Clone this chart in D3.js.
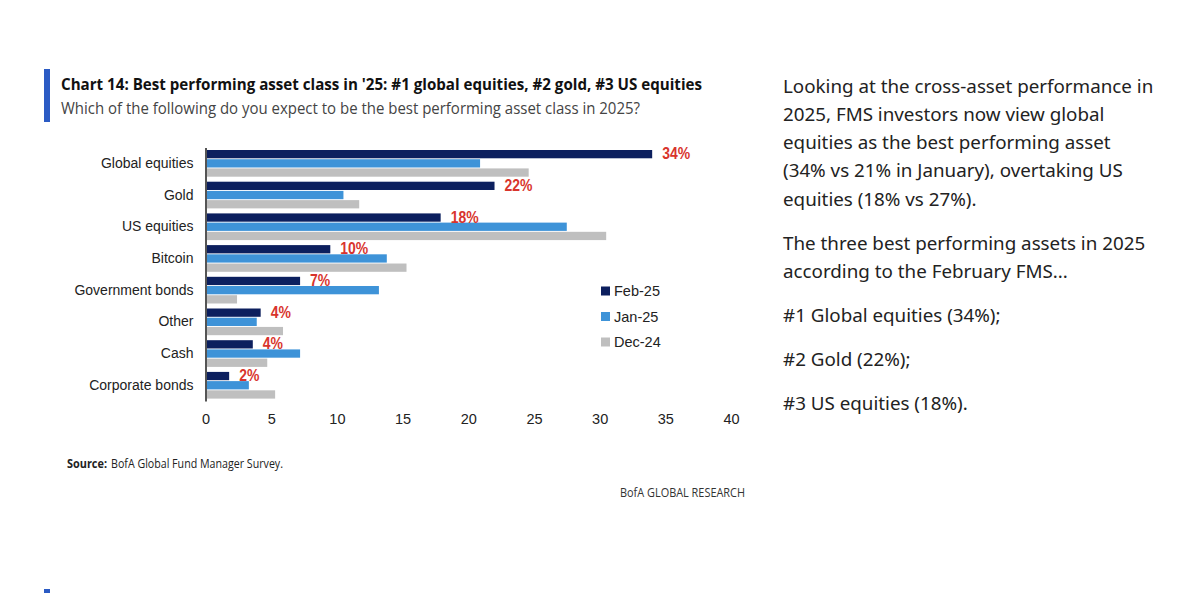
<!DOCTYPE html>
<html>
<head>
<meta charset="utf-8">
<script src="https://cdn.jsdelivr.net/npm/d3@7"></script>
<style>
  html, body { margin: 0; padding: 0; background: #fff; }
  svg { display: block; }
</style>
</head>
<body>
<svg id="chart" width="1179" height="593"></svg>
<script>
// ---- data ----
const categories = ["Global equities", "Gold", "US equities", "Bitcoin", "Government bonds", "Other", "Cash", "Corporate bonds"];
const seriesNames = ["Feb-25", "Jan-25", "Dec-24"];
const feb25 = [34, 22, 17.9, 9.5, 7.2, 4.2, 3.6, 1.8];
const jan25 = [20.9, 10.5, 27.5, 13.8, 13.2, 3.9, 7.2, 3.3];
const dec24 = [24.6, 11.7, 30.5, 15.3, 2.4, 5.9, 4.7, 5.3];
const febLabels = ["34%", "22%", "18%", "10%", "7%", "4%", "4%", "2%"];
const xTicks = [0, 5, 10, 15, 20, 25, 30, 35, 40];
const titleText = "Chart 14: Best performing asset class in '25: #1 global equities, #2 gold, #3 US equities";
const subtitleText = "Which of the following do you expect to be the best performing asset class in 2025?";
const sourceBold = "Source:";
const sourceText = "BofA Global Fund Manager Survey.";
const brandText = "BofA GLOBAL RESEARCH";
const paragraphs = [
  ["Looking at the cross-asset performance in", "2025, FMS investors now view global", "equities as the best performing asset", "(34% vs 21% in January), overtaking US", "equities (18% vs 27%)."],
  ["The three best performing assets in 2025", "according to the February FMS..."],
  ["#1 Global equities (34%);"],
  ["#2 Gold (22%);"],
  ["#3 US equities (18%)."]
];

const seriesValues = [feb25, jan25, dec24];
const colors = ["#0c1f5e", "#3e93d8", "#bfbfbf"];

const svg = d3.select("#chart");
svg.append("rect").attr("width", 1179).attr("height", 593).attr("fill", "#fff");

// ---- header ----
svg.append("rect").attr("x", 44).attr("y", 69).attr("width", 6).attr("height", 53).attr("fill", "#2b5bc4");
svg.append("text").attr("x", 61).attr("y", 90)
  .attr("font-family", "Open Sans").attr("font-weight", 700).attr("font-size", 16.5)
  .attr("fill", "#111").attr("textLength", 641).attr("lengthAdjust", "spacingAndGlyphs")
  .text(titleText);
svg.append("text").attr("x", 61).attr("y", 114)
  .attr("font-family", "Open Sans").attr("font-size", 16)
  .attr("fill", "#444").attr("textLength", 579).attr("lengthAdjust", "spacingAndGlyphs")
  .text(subtitleText);

// ---- scales ----
const x = d3.scaleLinear().domain([0, 40]).range([205.5, 731]);
const y = d3.scaleBand().domain(categories).range([147.5, 401.1]).paddingInner(0.158).paddingOuter(0.079);
const ySub = d3.scaleBand().domain(seriesNames).range([0, y.bandwidth()]).paddingInner(0.1);

// ---- bars ----
const rows = categories.map((c, i) => ({ cat: c, vals: seriesValues.map(s => s[i]) }));
const groups = svg.append("g").selectAll("g").data(rows).join("g")
  .attr("transform", d => `translate(0,${y(d.cat)})`);
groups.selectAll("rect").data(d => d.vals.map((v, k) => ({ v, k })))
  .join("rect")
  .attr("x", x(0))
  .attr("y", d => ySub(seriesNames[d.k]))
  .attr("width", d => x(d.v) - x(0))
  .attr("height", ySub.bandwidth())
  .attr("fill", d => colors[d.k]);

// ---- y axis ----
const yAxis = d3.axisLeft(y).tickSize(0).tickPadding(12);
const gy = svg.append("g").attr("transform", `translate(${x(0)},0)`).call(yAxis);
gy.select(".domain").attr("stroke", "#555").attr("stroke-width", 2);
gy.selectAll("text").attr("font-family", "Liberation Sans, Arial").attr("font-size", 14).attr("fill", "#222");

// ---- x axis ----
const xAxis = d3.axisBottom(x).tickValues(xTicks).tickSize(0).tickPadding(0);
const gx = svg.append("g").attr("transform", `translate(0,414)`).call(xAxis);
gx.select(".domain").remove();
gx.selectAll("text").attr("font-family", "Liberation Sans, Arial").attr("font-size", 14.5).attr("fill", "#222");

// ---- value labels ----
svg.append("g").selectAll("text").data(rows).join("text")
  .attr("x", (d, i) => x(feb25[i]) + 10)
  .attr("y", d => y(d.cat) + ySub("Feb-25") + ySub.bandwidth() / 2 - 1)
  .attr("dy", "0.36em")
  .attr("font-family", "Liberation Sans, Arial").attr("font-weight", 700).attr("font-size", 17)
  .attr("fill", "#d8342c")
  .text((d, i) => febLabels[i])
  .each(function() {
    const w = this.getComputedTextLength();
    d3.select(this).attr("textLength", w * 0.82).attr("lengthAdjust", "spacingAndGlyphs");
  });

// ---- legend ----
const legend = svg.append("g").selectAll("g").data(seriesNames).join("g")
  .attr("transform", (d, i) => `translate(601,${291 + i * 25.5})`);
legend.append("rect").attr("x", 0).attr("y", -4.5).attr("width", 9).attr("height", 9).attr("fill", (d, i) => colors[i]);
legend.append("text").attr("x", 13).attr("dy", "0.36em")
  .attr("font-family", "Liberation Sans, Arial").attr("font-size", 14.5).attr("fill", "#222")
  .text(d => d);

// ---- footer ----
svg.append("text").attr("x", 67).attr("y", 468)
  .attr("font-family", "Open Sans").attr("font-weight", 700).attr("font-size", 12).attr("fill", "#222")
  .attr("textLength", 40).attr("lengthAdjust", "spacingAndGlyphs")
  .text(sourceBold);
svg.append("text").attr("x", 111).attr("y", 468)
  .attr("font-family", "Open Sans").attr("font-size", 12).attr("fill", "#222")
  .attr("textLength", 172).attr("lengthAdjust", "spacingAndGlyphs")
  .text(sourceText);
svg.append("text").attr("x", 620).attr("y", 497)
  .attr("font-family", "Open Sans").attr("font-size", 12).attr("fill", "#333")
  .attr("textLength", 125).attr("lengthAdjust", "spacingAndGlyphs")
  .text(brandText);
svg.append("rect").attr("x", 44).attr("y", 589).attr("width", 6).attr("height", 4).attr("fill", "#2b5bc4");

// ---- right commentary ----
const paraTops = [86, 243, 315, 359, 403];
const lineH = 28.3;
const tg = svg.append("g");
paragraphs.forEach((lines, p) => {
  lines.forEach((ln, j) => {
    tg.append("text").attr("x", 783).attr("y", paraTops[p] + j * lineH)
      .attr("dy", "0.35em")
      .attr("font-family", "Noto Sans").attr("font-size", 18.8).attr("fill", "#222")
      .text(ln);
  });
});
</script>
</body>
</html>
